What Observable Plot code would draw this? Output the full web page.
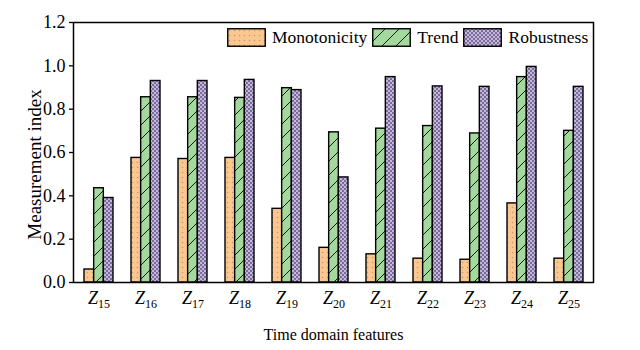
<!DOCTYPE html>
<html>
<head>
<meta charset="utf-8">
<script src="https://cdn.jsdelivr.net/npm/d3@7"></script>
<script src="https://cdn.jsdelivr.net/npm/@observablehq/plot@0.6"></script>
<style>
  body { margin: 0; background: #fff; }
  #wrap { position: relative; width: 640px; height: 350px; font-family: "Liberation Serif", "Times New Roman", serif; }
  #legend { position: absolute; top: 28px; left: 227px; display: flex; align-items: center; font-family: "Liberation Serif", serif; font-size: 17.5px; color: #000; line-height: 19px; }
  #legend .sw { width: 39px; height: 19px; display: block; }
  #legend .lab { margin: 0 5px 0 6px; }
</style>
</head>
<body>
<div id="wrap"><div id="legend"></div></div>
<script>
const features = ["15", "16", "17", "18", "19", "20", "21", "22", "23", "24", "25"];
const seriesNames = ["Monotonicity", "Trend", "Robustness"];
const monotonicity = [0.06, 0.575, 0.57, 0.575, 0.34, 0.16, 0.13, 0.11, 0.105, 0.365, 0.11];
const trend        = [0.435, 0.855, 0.855, 0.852, 0.897, 0.693, 0.71, 0.722, 0.688, 0.948, 0.70];
const robustness   = [0.39, 0.93, 0.93, 0.935, 0.888, 0.485, 0.948, 0.905, 0.903, 0.995, 0.903];
const yTicks = [0, 0.2, 0.4, 0.6, 0.8, 1.0, 1.2];

const fills = {
  Monotonicity: "url(#pat-dots)",
  Trend: "url(#pat-hatch)",
  Robustness: "url(#pat-check)"
};

const rows = (vals) => features.map((f, i) => ({feature: f, value: vals[i]}));

const BW = 29; // band width in px
const third = BW / 3;
const FONT = "'Liberation Serif', 'Times New Roman', serif";

const plot = Plot.plot({
  width: 640,
  height: 350,
  marginLeft: 73,
  marginRight: 47,
  marginTop: 22,
  marginBottom: 68,
  style: {fontFamily: FONT, fontSize: "18px", color: "#000", background: "#fff"},
  x: {domain: features, paddingInner: 0.387, paddingOuter: 0.19},
  y: {domain: [0, 1.2]},
  marks: [
    Plot.barY(rows(monotonicity), {x: "feature", y: "value", fill: fills.Monotonicity, stroke: "#000", strokeWidth: 1.4, insetRight: 2 * third}),
    Plot.barY(rows(trend), {x: "feature", y: "value", fill: fills.Trend, stroke: "#000", strokeWidth: 1.4, insetLeft: third, insetRight: third}),
    Plot.barY(rows(robustness), {x: "feature", y: "value", fill: fills.Robustness, stroke: "#000", strokeWidth: 1.4, insetLeft: 2 * third}),
    Plot.axisY({ticks: yTicks, tickFormat: d => d.toFixed(1), tickSize: 4, tickPadding: 4, strokeWidth: 1.3, label: null, fontSize: 18}),
    Plot.axisY({ticks: [], label: "Measurement index", labelAnchor: "center", labelArrow: "none", labelOffset: 46, fontSize: 19}),
    Plot.axisX({tickSize: 0, tickPadding: 9, tickFormat: d => "Z" + d, label: null, fontSize: 18}),
    Plot.axisX({ticks: [], label: "Time domain features", labelAnchor: "center", labelArrow: "none", labelOffset: 57, fontSize: 16}),
    Plot.frame({stroke: "#000", strokeWidth: 1.5})
  ]
});

// pattern definitions
const NS = "http://www.w3.org/2000/svg";
const defs = document.createElementNS(NS, "defs");
defs.innerHTML = `
  <pattern id="pat-dots" patternUnits="userSpaceOnUse" width="5" height="5">
    <rect width="5" height="5" fill="#FAC78F"></rect>
    <circle cx="2.5" cy="2.5" r="0.75" fill="#C29479"></circle>
  </pattern>
  <pattern id="pat-hatch" patternUnits="userSpaceOnUse" width="14" height="14">
    <rect width="14" height="14" fill="#A3D99D"></rect>
    <path d="M-3,17 L17,-3 M-3,3 L3,-3 M11,17 L17,11" stroke="#000" stroke-width="0.9"></path>
  </pattern>
  <pattern id="pat-check" patternUnits="userSpaceOnUse" width="4" height="4">
    <rect width="4" height="4" fill="#C3B8D8"></rect>
    <rect x="0" y="0" width="2" height="2" fill="#7B6B9C"></rect>
    <rect x="2" y="2" width="2" height="2" fill="#7B6B9C"></rect>
  </pattern>`;
plot.insertBefore(defs, plot.firstChild);

// italic Z with subscript for x tick labels
d3.select(plot).selectAll("g[aria-label='x-axis tick label'] text").each(function() {
  const t = this.textContent;
  const num = t.slice(1);
  const sel = d3.select(this);
  sel.text(null);
  sel.append("tspan").attr("font-style", "italic").attr("font-size", 18).text("Z");
  sel.append("tspan").attr("font-size", 12).attr("dy", "0.35em").text(num);
});

// shift the y-axis title slightly downward, as in the original
d3.select(plot).selectAll("g[aria-label='y-axis label'] text").attr("dx", -12);

const wrap = document.getElementById("wrap");
wrap.insertBefore(plot, wrap.firstChild);

// legend overlay
const legend = document.getElementById("legend");
seriesNames.forEach(name => {
  const sw = document.createElementNS(NS, "svg");
  sw.setAttribute("class", "sw");
  sw.setAttribute("width", 39);
  sw.setAttribute("height", 19);
  sw.innerHTML = `<rect x="0.75" y="0.75" width="37.5" height="17.5" fill="${fills[name]}" stroke="#000" stroke-width="1.4"></rect>`;
  legend.appendChild(sw);
  const lab = document.createElement("span");
  lab.className = "lab";
  lab.textContent = name;
  legend.appendChild(lab);
});
</script>
</body>
</html>
